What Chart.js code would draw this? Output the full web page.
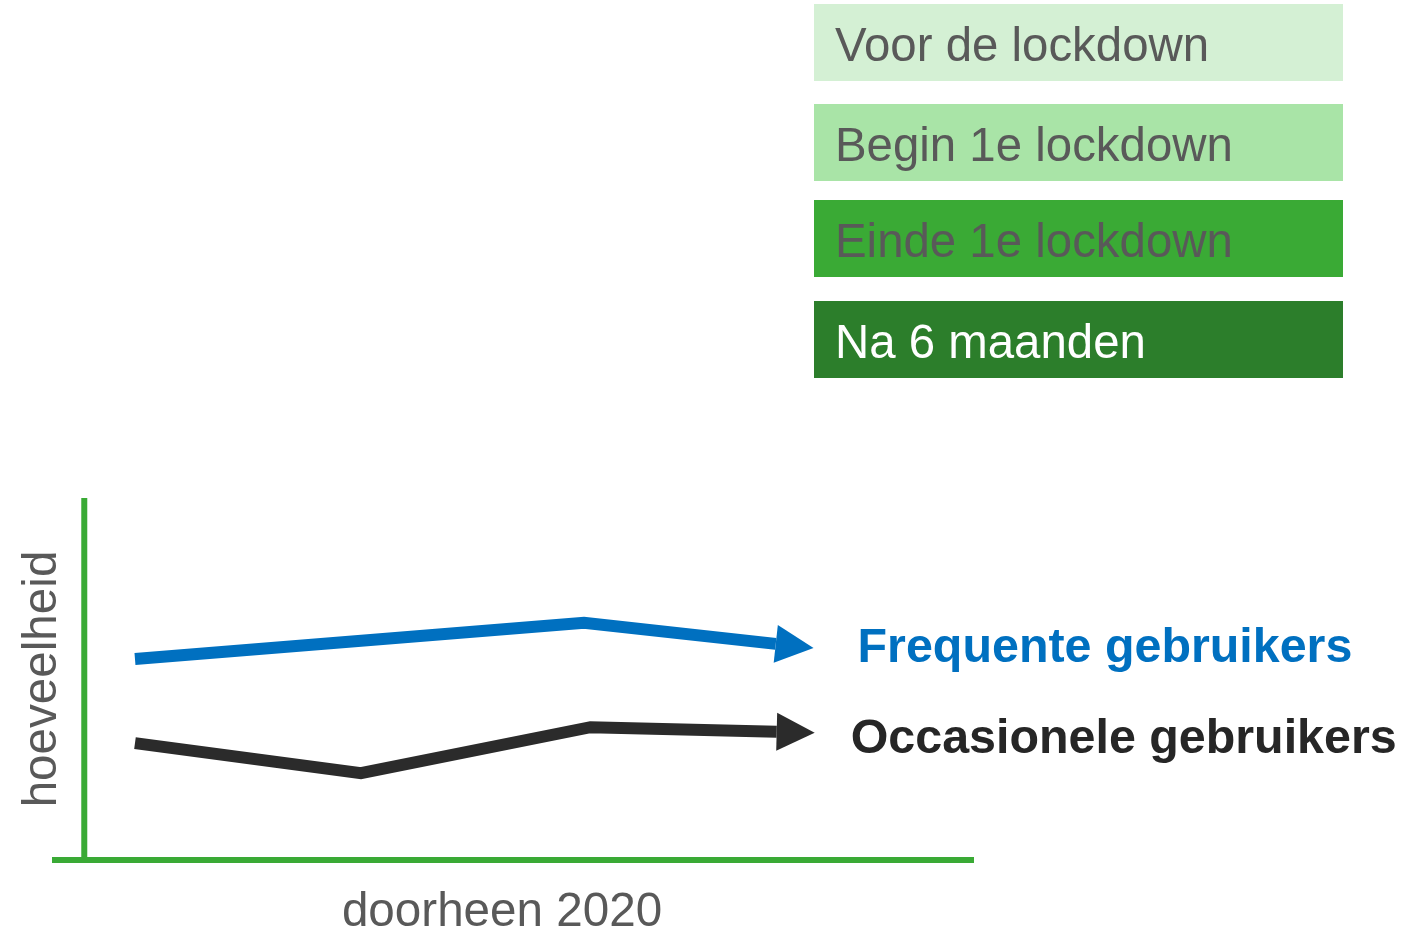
<!DOCTYPE html>
<html>
<head>
<meta charset="utf-8">
<script src="https://cdn.jsdelivr.net/npm/chart.js@4/dist/chart.umd.min.js"></script>
<style>
  html, body { margin: 0; padding: 0; background: #ffffff; }
  #wrap { width: 1406px; height: 932px; position: relative; }
</style>
</head>
<body>
<div id="wrap"><canvas id="c"></canvas></div>
<script>
// ---- data ----
const PHASES = ['Voor de lockdown', 'Begin 1e lockdown', 'Einde 1e lockdown', 'Na 6 maanden'];
const SERIES_NAMES = ['Frequente gebruikers', 'Occasionele gebruikers'];
const FREQ_X = [9.0, 57.7, 78.5];
const FREQ_Y = [55.5, 65.5, 59.7];
const OCC_X = [9.0, 33.5, 58.4, 78.6];
const OCC_Y = [32.3, 24.0, 36.7, 35.4];
const X_TITLE = 'doorheen 2020';
const Y_TITLE = 'hoeveelheid';
const X_RANGE = [0, 100];
const Y_RANGE = [0, 100];
const Y_AXIS_AT = 3.5;

// ---- styles ----
const PHASE_FILL = ['#D4F0D4', '#A9E4A7', '#3AAA35', '#2C7E2B'];
const PHASE_TEXT = ['#595959', '#595959', '#595959', '#FFFFFF'];
const SERIES_COLORS = ['#0070C0', '#2B2B2B'];
const LABEL_COLORS = ['#0070C0', '#262626'];
const AXIS_COLOR = '#3AAA35';
const FONT = '"Liberation Sans", Arial, sans-serif';

const toPts = (xs, ys) => xs.map((x, i) => ({ x: x, y: ys[i] }));

const decor = {
  id: 'decor',
  beforeDatasetsDraw(chart) {
    const { ctx, scales: { x, y } } = chart;
    ctx.save();
    ctx.strokeStyle = AXIS_COLOR;
    ctx.lineWidth = 6;
    ctx.lineCap = 'butt';
    const ax = x.getPixelForValue(Y_AXIS_AT);
    ctx.beginPath();
    ctx.moveTo(ax, y.getPixelForValue(Y_RANGE[1]));
    ctx.lineTo(ax, y.getPixelForValue(Y_RANGE[0]));
    ctx.stroke();
    const ay = y.getPixelForValue(Y_RANGE[0]);
    ctx.beginPath();
    ctx.moveTo(x.getPixelForValue(X_RANGE[0]), ay);
    ctx.lineTo(x.getPixelForValue(X_RANGE[1]), ay);
    ctx.stroke();
    ctx.restore();
  },
  afterDatasetsDraw(chart) {
    const { ctx, scales: { x, y } } = chart;
    ctx.save();
    const labelOffsets = [{ dx: 44, dy: 14 }, { dx: 36, dy: 20 }];
    chart.data.datasets.forEach((ds, i) => {
      const pts = chart.getDatasetMeta(i).data;
      const p1 = pts[pts.length - 2], p2 = pts[pts.length - 1];
      const ang = Math.atan2(p2.y - p1.y, p2.x - p1.x);
      const L = 38, W = 19;
      const tx = p2.x + L * Math.cos(ang), ty = p2.y + L * Math.sin(ang);
      ctx.fillStyle = ds.borderColor;
      ctx.beginPath();
      ctx.moveTo(tx, ty);
      ctx.lineTo(p2.x - W * Math.sin(ang), p2.y + W * Math.cos(ang));
      ctx.lineTo(p2.x + W * Math.sin(ang), p2.y - W * Math.cos(ang));
      ctx.closePath();
      ctx.fill();
      ctx.font = 'bold 48.4px ' + FONT;
      ctx.fillStyle = LABEL_COLORS[i];
      ctx.textAlign = 'left';
      ctx.textBaseline = 'alphabetic';
      ctx.fillText(SERIES_NAMES[i], tx + labelOffsets[i].dx, ty + labelOffsets[i].dy);
    });

    const bx = 814, bw = 529, bh = 77;
    const tops = [4, 104, 200, 301];
    PHASES.forEach((p, i) => {
      ctx.fillStyle = PHASE_FILL[i];
      ctx.fillRect(bx, tops[i], bw, bh);
      ctx.fillStyle = PHASE_TEXT[i];
      ctx.font = '47.4px ' + FONT;
      ctx.textAlign = 'left';
      ctx.textBaseline = 'alphabetic';
      ctx.fillText(p, bx + 21, tops[i] + 57);
    });

    ctx.fillStyle = '#595959';
    ctx.font = '47.6px ' + FONT;
    ctx.textAlign = 'center';
    ctx.textBaseline = 'alphabetic';
    ctx.fillText(X_TITLE, 502, 926);
    ctx.save();
    ctx.translate(56, (y.top + y.bottom) / 2);
    ctx.rotate(-Math.PI / 2);
    ctx.fillText(Y_TITLE, 0, 0);
    ctx.restore();
    ctx.restore();
  }
};

new Chart(document.getElementById('c'), {
  type: 'line',
  data: {
    datasets: [
      {
        label: SERIES_NAMES[0],
        data: toPts(FREQ_X, FREQ_Y),
        borderColor: SERIES_COLORS[0],
        borderWidth: 12
      },
      {
        label: SERIES_NAMES[1],
        data: toPts(OCC_X, OCC_Y),
        borderColor: SERIES_COLORS[1],
        borderWidth: 12
      }
    ]
  },
  options: {
    responsive: true,
    maintainAspectRatio: false,
    animation: false,
    layout: { padding: { left: 52, right: 432, top: 498, bottom: 72 } },
    elements: {
      line: { tension: 0, borderJoinStyle: 'miter', borderCapStyle: 'butt', fill: false },
      point: { radius: 0, hoverRadius: 0 }
    },
    scales: {
      x: { type: 'linear', min: X_RANGE[0], max: X_RANGE[1], display: false },
      y: { type: 'linear', min: Y_RANGE[0], max: Y_RANGE[1], display: false }
    },
    plugins: {
      legend: { display: false },
      tooltip: { enabled: false }
    }
  },
  plugins: [decor]
});
</script>
</body>
</html>
